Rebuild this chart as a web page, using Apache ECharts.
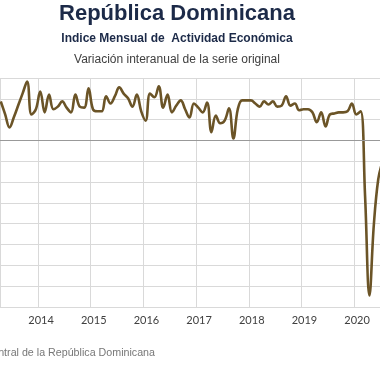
<!DOCTYPE html>
<html>
<head>
<meta charset="utf-8">
<script src="https://cdn.jsdelivr.net/npm/echarts@6/dist/echarts.min.js"></script>
<style>html,body{margin:0;padding:0;background:#fff}#c{width:380px;height:380px}</style>
</head>
<body>
<div id="c"></div>
<script>
// Monthly series starts April 2013
const startYear = 2013;
const startMonth = 4;
const values = [
  7.5, 5.0, 2.5, 4.5, 6.8, 9.1, 11.3, 5.0, 6.0,          // 2013 Apr-Dec
  9.4, 5.4, 8.8, 6.0, 6.5, 7.5, 6.3, 5.4, 8.8, 6.5, 6.3, 10.0, // 2014
  6.0, 5.6, 5.6, 8.5, 7.1, 8.5, 10.2, 9.0, 8.1, 6.5, 8.8, 5.6, // 2015
  3.8, 9.0, 8.3, 10.4, 6.3, 8.8, 5.4, 6.7, 7.7, 6.0, 4.4, 7.1, // 2016
  6.3, 5.4, 7.3, 1.6, 4.8, 3.3, 3.8, 6.2, 0.4, 6.0, 7.7, 7.7,  // 2017
  7.7, 7.1, 6.5, 7.5, 6.9, 7.5, 6.5, 6.7, 8.5, 6.7, 7.1, 5.8,  // 2018
  6.0, 6.0, 5.4, 3.5, 5.4, 2.7, 5.0, 5.2, 5.4, 5.4, 5.6, 7.1,  // 2019
  5.0, 5.6, -10.6, -29.8, -16.2, -7.5, -4.0                    // 2020 Jan-Jul
];
const yearTicks = [2014, 2015, 2016, 2017, 2018, 2019, 2020];
// visible window of the time axis (in years)
const xMin = 2013.277;
const xMax = 2020.492;
const titleText = 'República Dominicana';
const subtitleText = 'Indice Mensual de  Actividad Económica';
const subtext2 = 'Variación interanual de la serie original';
const sourceText = 'Fuente: Banco Central de la República Dominicana';

const seriesData = values.map((v, i) => {
  const mIdx = startMonth - 1 + i;
  const yr = startYear + Math.floor(mIdx / 12);
  const mo = mIdx % 12;
  return [yr + (mo + 0.5) / 12, v];
});

const chart = echarts.init(document.getElementById('c'), null, {renderer: 'canvas'});
const ff = '"Liberation Sans", Arial, sans-serif';
chart.setOption({
  animation: false,
  backgroundColor: '#ffffff',
  grid: {left: 0, right: 0, top: 78, bottom: 73, containLabel: false},
  xAxis: {
    type: 'value', min: xMin, max: xMax, minInterval: 1, maxInterval: 1,
    axisLine: {show: true, lineStyle: {color: '#cccccc', width: 1}},
    axisTick: {show: false},
    splitLine: {show: true, lineStyle: {color: '#d9d9d9', width: 1}},
    axisLabel: {
      color: '#404040', fontSize: 11, fontFamily: 'Lato, "DejaVu Sans", sans-serif', margin: 8,
      padding: [0, 0, 0, 6],
      showMinLabel: false, showMaxLabel: false,
      formatter: v => yearTicks.includes(Math.round(v * 1000) / 1000) ? String(Math.round(v)) : ''
    }
  },
  yAxis: {
    type: 'value', min: -32, max: 12, interval: 4,
    axisLine: {show: false}, axisTick: {show: false},
    axisLabel: {show: false},
    splitLine: {show: true, lineStyle: {color: '#d9d9d9', width: 1}}
  },
  series: [{
    type: 'line', data: seriesData, smooth: 0.4, symbol: 'none', clip: true,
    lineStyle: {color: '#6b5427', width: 2.6},
    markLine: {
      silent: true, symbol: 'none', label: {show: false},
      lineStyle: {color: '#999999', width: 1, type: 'solid'},
      data: [{yAxis: 0}]
    },
    z: 3
  }],
  graphic: [
    {type: 'text', style: {text: titleText, x: 177, y: 14, textAlign: 'center', textVerticalAlign: 'middle', font: 'bold 22px ' + ff, fill: '#1c2a48'}},
    {type: 'text', style: {text: subtitleText, x: 177, y: 39, textAlign: 'center', textVerticalAlign: 'middle', font: 'bold 12px ' + ff, fill: '#1c2a48'}},
    {type: 'text', style: {text: subtext2, x: 177, y: 60, textAlign: 'center', textVerticalAlign: 'middle', font: '12px ' + ff, fill: '#404040'}},
    {type: 'text', style: {text: sourceText, x: 155, y: 353, textAlign: 'right', textVerticalAlign: 'middle', font: '10.7px ' + ff, fill: '#777777'}}
  ]
});
</script>
</body>
</html>
